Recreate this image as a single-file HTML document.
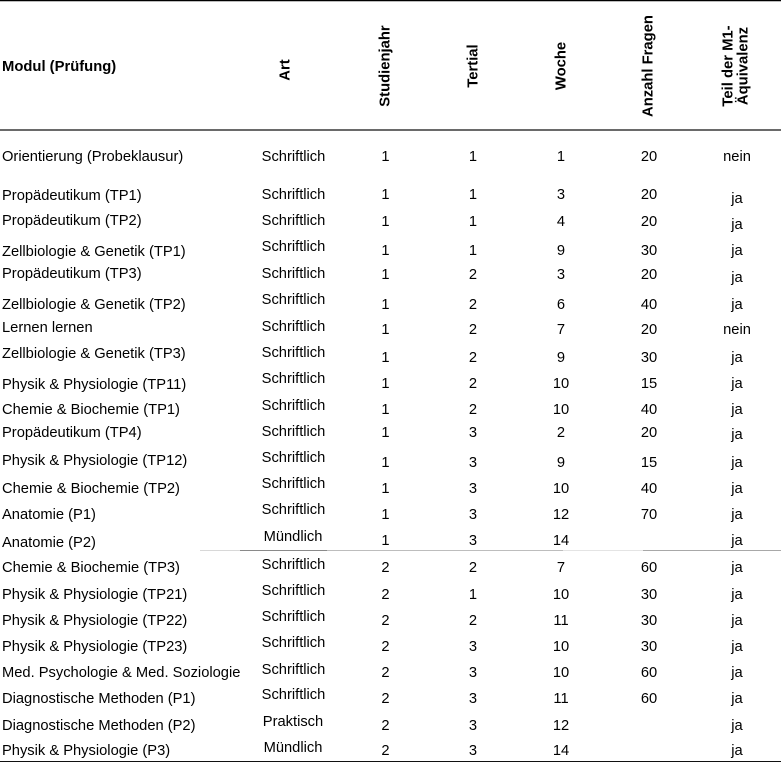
<!DOCTYPE html>
<html>
<head>
<meta charset="utf-8">
<style>
html,body{margin:0;padding:0;background:#fff;}
body{width:781px;height:762px;position:relative;overflow:hidden;font-family:"Liberation Sans",Arial,sans-serif;color:#000;}
div{position:absolute;white-space:nowrap;}
.t{font-size:14.7px;line-height:17px;height:17px;}
.l{left:2px;}
.c{width:120px;margin-left:-60px;text-align:center;}
.h{font-size:14.8px;font-weight:bold;line-height:17px;}
.r{width:140px;height:17px;text-align:center;transform:translate(-50%,-50%) rotate(-90deg);}
.ln{height:1px;}
</style>
</head>
<body>
<!-- lines -->
<div class="ln" style="left:0;top:0;width:781px;background:#000;"></div>
<div class="ln" style="left:0;top:1px;width:781px;background:#bbb;"></div>
<div style="left:0;top:129px;width:781px;height:2px;background:#6a6a6a;"></div>
<div class="ln" style="left:200px;top:550px;width:40px;background:#d8d8d8;"></div>
<div class="ln" style="left:240px;top:550px;width:87px;background:#8a8a8a;"></div>
<div class="ln" style="left:327px;top:550px;width:236px;background:#bdbdbd;"></div>
<div class="ln" style="left:563px;top:550px;width:80px;background:#e4e4e4;"></div>
<div class="ln" style="left:643px;top:550px;width:138px;background:#a8a8a8;"></div>
<div class="ln" style="left:0;top:761px;width:781px;background:#111;"></div>

<!-- header -->
<div class="h" style="left:2px;top:59px;">Modul (Prüfung)</div>
<div class="h r" style="left:286px;top:70px;">Art</div>
<div class="h r" style="left:385.5px;top:66px;">Studienjahr</div>
<div class="h r" style="left:473.5px;top:65.5px;">Tertial</div>
<div class="h r" style="left:562px;top:66px;">Woche</div>
<div class="h r" style="left:648.5px;top:66px;">Anzahl Fragen</div>
<div class="h" style="left:735.75px;top:66px;width:140px;height:29px;line-height:14.5px;text-align:center;transform:translate(-50%,-50%) rotate(-90deg);">Teil der M1-<br>Äquivalenz</div>

<!-- row 1 -->
<div class="t l" style="top:149px;">Orientierung (Probeklausur)</div>
<div class="t c" style="left:293.5px;top:149px;">Schriftlich</div>
<div class="t c" style="left:385.5px;top:149px;">1</div>
<div class="t c" style="left:473px;top:149px;">1</div>
<div class="t c" style="left:561px;top:149px;">1</div>
<div class="t c" style="left:649px;top:149px;">20</div>
<div class="t c" style="left:737px;top:149px;">nein</div>

<!-- row 2 -->
<div class="t l" style="top:188.4px;">Propädeutikum (TP1)</div>
<div class="t c" style="left:293.5px;top:187.4px;">Schriftlich</div>
<div class="t c" style="left:385.5px;top:187.4px;">1</div>
<div class="t c" style="left:473px;top:187.4px;">1</div>
<div class="t c" style="left:561px;top:187.4px;">3</div>
<div class="t c" style="left:649px;top:187.4px;">20</div>
<div class="t c" style="left:737px;top:190.9px;">ja</div>

<!-- row 3 -->
<div class="t l" style="top:213.4px;">Propädeutikum (TP2)</div>
<div class="t c" style="left:293.5px;top:213.4px;">Schriftlich</div>
<div class="t c" style="left:385.5px;top:214px;">1</div>
<div class="t c" style="left:473px;top:214px;">1</div>
<div class="t c" style="left:561px;top:214px;">4</div>
<div class="t c" style="left:649px;top:214px;">20</div>
<div class="t c" style="left:737px;top:217.4px;">ja</div>

<!-- row 4 -->
<div class="t l" style="top:244.4px;">Zellbiologie &amp; Genetik (TP1)</div>
<div class="t c" style="left:293.5px;top:239px;">Schriftlich</div>
<div class="t c" style="left:385.5px;top:243.4px;">1</div>
<div class="t c" style="left:473px;top:243.4px;">1</div>
<div class="t c" style="left:561px;top:243.4px;">9</div>
<div class="t c" style="left:649px;top:243.4px;">30</div>
<div class="t c" style="left:737px;top:243.4px;">ja</div>

<!-- row 5 -->
<div class="t l" style="top:266px;">Propädeutikum (TP3)</div>
<div class="t c" style="left:293.5px;top:266px;">Schriftlich</div>
<div class="t c" style="left:385.5px;top:266.7px;">1</div>
<div class="t c" style="left:473px;top:266.7px;">2</div>
<div class="t c" style="left:561px;top:266.7px;">3</div>
<div class="t c" style="left:649px;top:266.7px;">20</div>
<div class="t c" style="left:737px;top:270.1px;">ja</div>

<!-- row 6 -->
<div class="t l" style="top:296.7px;">Zellbiologie &amp; Genetik (TP2)</div>
<div class="t c" style="left:293.5px;top:292.4px;">Schriftlich</div>
<div class="t c" style="left:385.5px;top:296.7px;">1</div>
<div class="t c" style="left:473px;top:296.7px;">2</div>
<div class="t c" style="left:561px;top:296.7px;">6</div>
<div class="t c" style="left:649px;top:296.7px;">40</div>
<div class="t c" style="left:737px;top:296.7px;">ja</div>

<!-- row 7 -->
<div class="t l" style="top:320px;">Lernen lernen</div>
<div class="t c" style="left:293.5px;top:319px;">Schriftlich</div>
<div class="t c" style="left:385.5px;top:321.7px;">1</div>
<div class="t c" style="left:473px;top:321.7px;">2</div>
<div class="t c" style="left:561px;top:321.7px;">7</div>
<div class="t c" style="left:649px;top:321.7px;">20</div>
<div class="t c" style="left:737px;top:321.7px;">nein</div>

<!-- row 8 -->
<div class="t l" style="top:346px;">Zellbiologie &amp; Genetik (TP3)</div>
<div class="t c" style="left:293.5px;top:345px;">Schriftlich</div>
<div class="t c" style="left:385.5px;top:350px;">1</div>
<div class="t c" style="left:473px;top:350px;">2</div>
<div class="t c" style="left:561px;top:350px;">9</div>
<div class="t c" style="left:649px;top:350px;">30</div>
<div class="t c" style="left:737px;top:350px;">ja</div>

<!-- row 9 -->
<div class="t l" style="top:376.7px;">Physik &amp; Physiologie (TP11)</div>
<div class="t c" style="left:293.5px;top:371px;">Schriftlich</div>
<div class="t c" style="left:385.5px;top:376px;">1</div>
<div class="t c" style="left:473px;top:376px;">2</div>
<div class="t c" style="left:561px;top:376px;">10</div>
<div class="t c" style="left:649px;top:376px;">15</div>
<div class="t c" style="left:737px;top:376px;">ja</div>

<!-- row 10 -->
<div class="t l" style="top:401.7px;">Chemie &amp; Biochemie (TP1)</div>
<div class="t c" style="left:293.5px;top:397.7px;">Schriftlich</div>
<div class="t c" style="left:385.5px;top:402.4px;">1</div>
<div class="t c" style="left:473px;top:402.4px;">2</div>
<div class="t c" style="left:561px;top:402.4px;">10</div>
<div class="t c" style="left:649px;top:402.4px;">40</div>
<div class="t c" style="left:737px;top:402.4px;">ja</div>

<!-- row 11 -->
<div class="t l" style="top:425px;">Propädeutikum (TP4)</div>
<div class="t c" style="left:293.5px;top:424px;">Schriftlich</div>
<div class="t c" style="left:385.5px;top:425px;">1</div>
<div class="t c" style="left:473px;top:425px;">3</div>
<div class="t c" style="left:561px;top:425px;">2</div>
<div class="t c" style="left:649px;top:425px;">20</div>
<div class="t c" style="left:737px;top:427.4px;">ja</div>

<!-- row 12 -->
<div class="t l" style="top:453.4px;">Physik &amp; Physiologie (TP12)</div>
<div class="t c" style="left:293.5px;top:450px;">Schriftlich</div>
<div class="t c" style="left:385.5px;top:455px;">1</div>
<div class="t c" style="left:473px;top:455px;">3</div>
<div class="t c" style="left:561px;top:455px;">9</div>
<div class="t c" style="left:649px;top:455px;">15</div>
<div class="t c" style="left:737px;top:455px;">ja</div>

<!-- row 13 -->
<div class="t l" style="top:480.7px;">Chemie &amp; Biochemie (TP2)</div>
<div class="t c" style="left:293.5px;top:476px;">Schriftlich</div>
<div class="t c" style="left:385.5px;top:480.7px;">1</div>
<div class="t c" style="left:473px;top:480.7px;">3</div>
<div class="t c" style="left:561px;top:480.7px;">10</div>
<div class="t c" style="left:649px;top:480.7px;">40</div>
<div class="t c" style="left:737px;top:480.7px;">ja</div>

<!-- row 14 -->
<div class="t l" style="top:507.4px;">Anatomie (P1)</div>
<div class="t c" style="left:293.5px;top:502.4px;">Schriftlich</div>
<div class="t c" style="left:385.5px;top:507.4px;">1</div>
<div class="t c" style="left:473px;top:507.4px;">3</div>
<div class="t c" style="left:561px;top:507.4px;">12</div>
<div class="t c" style="left:649px;top:507.4px;">70</div>
<div class="t c" style="left:737px;top:507.4px;">ja</div>

<!-- row 15 -->
<div class="t l" style="top:535px;">Anatomie (P2)</div>
<div class="t c" style="left:293px;top:529.4px;">Mündlich</div>
<div class="t c" style="left:385.5px;top:533.4px;">1</div>
<div class="t c" style="left:473px;top:533.4px;">3</div>
<div class="t c" style="left:561px;top:533.4px;">14</div>
<div class="t c" style="left:737px;top:533.4px;">ja</div>

<!-- row 16 -->
<div class="t l" style="top:560px;">Chemie &amp; Biochemie (TP3)</div>
<div class="t c" style="left:293.5px;top:556.7px;">Schriftlich</div>
<div class="t c" style="left:385.5px;top:560px;">2</div>
<div class="t c" style="left:473px;top:560px;">2</div>
<div class="t c" style="left:561px;top:560px;">7</div>
<div class="t c" style="left:649px;top:560px;">60</div>
<div class="t c" style="left:737px;top:560px;">ja</div>

<!-- row 17 -->
<div class="t l" style="top:586.7px;">Physik &amp; Physiologie (TP21)</div>
<div class="t c" style="left:293.5px;top:582.7px;">Schriftlich</div>
<div class="t c" style="left:385.5px;top:586.7px;">2</div>
<div class="t c" style="left:473px;top:586.7px;">1</div>
<div class="t c" style="left:561px;top:586.7px;">10</div>
<div class="t c" style="left:649px;top:586.7px;">30</div>
<div class="t c" style="left:737px;top:586.7px;">ja</div>

<!-- row 18 -->
<div class="t l" style="top:613.4px;">Physik &amp; Physiologie (TP22)</div>
<div class="t c" style="left:293.5px;top:608.7px;">Schriftlich</div>
<div class="t c" style="left:385.5px;top:613.4px;">2</div>
<div class="t c" style="left:473px;top:613.4px;">2</div>
<div class="t c" style="left:561px;top:613.4px;">11</div>
<div class="t c" style="left:649px;top:613.4px;">30</div>
<div class="t c" style="left:737px;top:613.4px;">ja</div>

<!-- row 19 -->
<div class="t l" style="top:639.4px;">Physik &amp; Physiologie (TP23)</div>
<div class="t c" style="left:293.5px;top:635px;">Schriftlich</div>
<div class="t c" style="left:385.5px;top:639.4px;">2</div>
<div class="t c" style="left:473px;top:639.4px;">3</div>
<div class="t c" style="left:561px;top:639.4px;">10</div>
<div class="t c" style="left:649px;top:639.4px;">30</div>
<div class="t c" style="left:737px;top:639.4px;">ja</div>

<!-- row 20 -->
<div class="t l" style="top:665px;">Med. Psychologie &amp; Med. Soziologie</div>
<div class="t c" style="left:293.5px;top:661.7px;">Schriftlich</div>
<div class="t c" style="left:385.5px;top:665px;">2</div>
<div class="t c" style="left:473px;top:665px;">3</div>
<div class="t c" style="left:561px;top:665px;">10</div>
<div class="t c" style="left:649px;top:665px;">60</div>
<div class="t c" style="left:737px;top:665px;">ja</div>

<!-- row 21 -->
<div class="t l" style="top:691px;">Diagnostische Methoden (P1)</div>
<div class="t c" style="left:293.5px;top:687.4px;">Schriftlich</div>
<div class="t c" style="left:385.5px;top:691px;">2</div>
<div class="t c" style="left:473px;top:691px;">3</div>
<div class="t c" style="left:561px;top:691px;">11</div>
<div class="t c" style="left:649px;top:691px;">60</div>
<div class="t c" style="left:737px;top:691px;">ja</div>

<!-- row 22 -->
<div class="t l" style="top:718.4px;">Diagnostische Methoden (P2)</div>
<div class="t c" style="left:293px;top:714px;">Praktisch</div>
<div class="t c" style="left:385.5px;top:717.7px;">2</div>
<div class="t c" style="left:473px;top:717.7px;">3</div>
<div class="t c" style="left:561px;top:717.7px;">12</div>
<div class="t c" style="left:737px;top:717.7px;">ja</div>

<!-- row 23 -->
<div class="t l" style="top:743.4px;">Physik &amp; Physiologie (P3)</div>
<div class="t c" style="left:293px;top:740px;">Mündlich</div>
<div class="t c" style="left:385.5px;top:743.4px;">2</div>
<div class="t c" style="left:473px;top:743.4px;">3</div>
<div class="t c" style="left:561px;top:743.4px;">14</div>
<div class="t c" style="left:737px;top:743.4px;">ja</div>
</body>
</html>
